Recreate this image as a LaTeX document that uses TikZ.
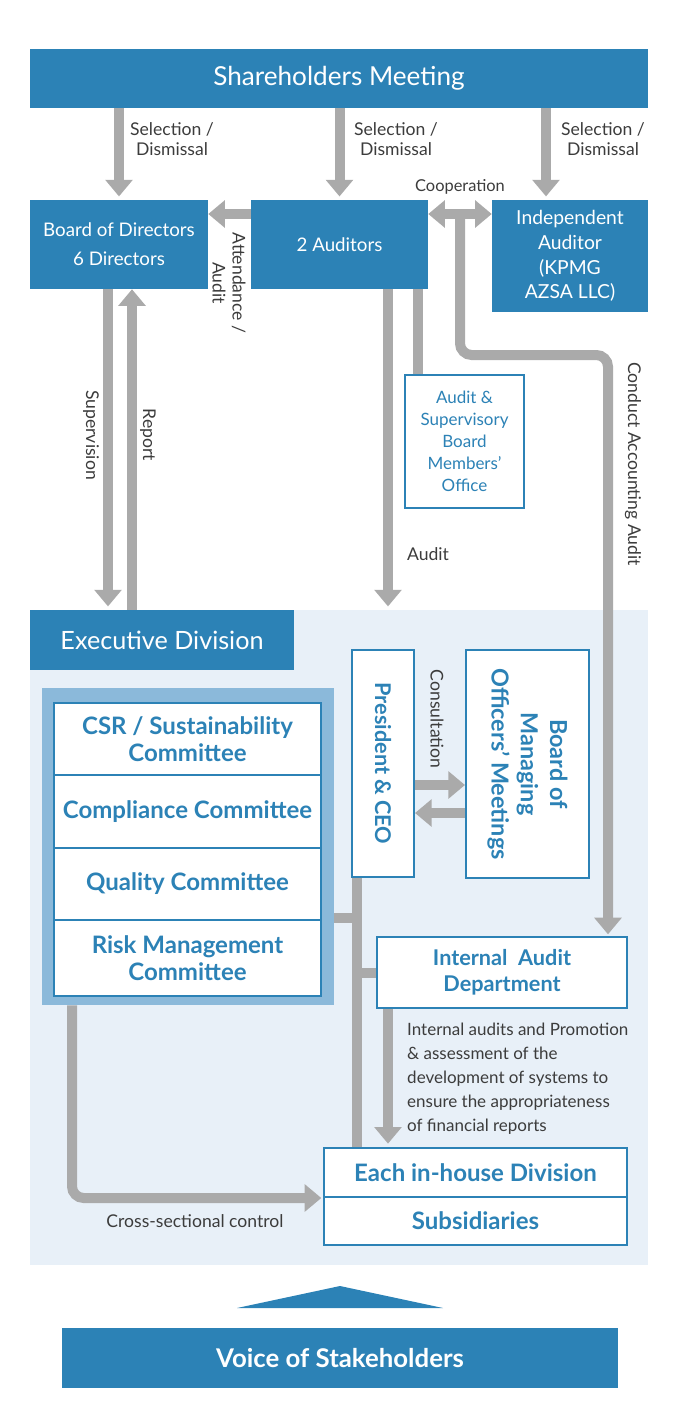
\documentclass[tikz,border=0pt]{standalone}
\usepackage{fontspec}
\setmainfont{Lato}
\usetikzlibrary{arrows.meta,calc}
\definecolor{corpblue}{HTML}{2C82B6}
\definecolor{paleblue}{HTML}{E8F0F8}
\definecolor{frameblue}{HTML}{8BB9DA}
\definecolor{arrowgray}{HTML}{AAAAAA}
\definecolor{labelgray}{HTML}{3C3C3C}
\tikzset{
  headbox/.style={fill=corpblue,text=white,inner sep=0pt,align=center},
  whitebox/.style={fill=white,draw=corpblue,line width=0.06cm,text=corpblue,inner sep=0pt,align=center,
    font=\bfseries\fontsize{20.5}{23}\selectfont},
  flow/.style={draw=arrowgray,line width=0.3cm,-{Triangle[length=0.5cm,width=0.8cm]}},
  flowboth/.style={draw=arrowgray,line width=0.3cm,{Triangle[length=0.5cm,width=0.8cm]}-{Triangle[length=0.5cm,width=0.8cm]}},
  bar/.style={draw=arrowgray,line width=0.3cm},
  lbl/.style={text=labelgray,font=\fontsize{15}{17}\selectfont,align=center,inner sep=0pt}
}
\begin{document}
\begin{tikzpicture}[x=0.03cm,y=-0.03cm]
\useasboundingbox (0,0) rectangle (678,1418);

% executive zone in the back
\node[fill=paleblue,minimum width=18.54cm,minimum height=19.65cm] (zone) at (339,937.5) {};

% top level
\node[headbox,minimum width=18.54cm,minimum height=1.77cm,font=\fontsize{22.3}{24}\selectfont] (sh) at (339,78.5) {Shareholders Meeting};
\node[headbox,minimum width=5.34cm,minimum height=2.67cm,font=\fontsize{16}{25}\selectfont] (bod) at (119,244.5) {Board of Directors\\6 Directors};
\node[headbox,minimum width=5.31cm,minimum height=2.67cm,font=\fontsize{16}{25}\selectfont] (aud) at (339.5,244.5) {2 Auditors};
\node[headbox,minimum width=4.68cm,minimum height=3.36cm,font=\fontsize{16.5}{21}\selectfont] (indep) at (570,256) {Independent\\Auditor\\(KPMG\\AZSA LLC)};
\node[whitebox,minimum width=3.57cm,minimum height=3.99cm,line width=0.05cm,font=\fontsize{14.5}{18.7}\selectfont] (asb) at (464.5,441.5) {Audit \&\\Supervisory\\Board\\Members’\\Office};

% executive division
\node[headbox,minimum width=7.92cm,minimum height=1.8cm,font=\fontsize{21.5}{24}\selectfont] (exec) at (162,640) {Executive Division};
\node[fill=frameblue,minimum width=8.76cm,minimum height=9.51cm] (frame) at (188,846.5) {};
\node[whitebox,minimum width=8.01cm,minimum height=2.16cm] (csr) at (187.5,739) {CSR / Sustainability\\Committee};
\node[whitebox,minimum width=8.01cm,minimum height=2.19cm] (comp) at (187.5,811.5) {Compliance Committee};
\node[whitebox,minimum width=8.01cm,minimum height=2.16cm] (qual) at (187.5,884) {Quality Committee};
\node[whitebox,minimum width=8.01cm,minimum height=2.28cm] (risk) at (187.5,958) {Risk Management\\Committee};

% rotated boxes: north = right side, south = left side, east = bottom
\node[whitebox,rotate=-90,minimum width=6.81cm,minimum height=1.86cm,font=\bfseries\fontsize{18.5}{22}\selectfont] (ceo) at (383,763.5) {President \& CEO};
\node[whitebox,rotate=-90,minimum width=6.84cm,minimum height=3.69cm,font=\bfseries\fontsize{20}{25}\selectfont] (bomo) at (527.5,764) {Board of\\Managing\\Officers’ Meetings};

\node[whitebox,minimum width=7.5cm,minimum height=2.13cm,font=\bfseries\fontsize{18.5}{22}\selectfont] (iad) at (502,972.5) {Internal\ \ Audit\\Department};
\node[whitebox,minimum width=9.09cm,minimum height=1.47cm] (each) at (475.5,1172.5) {Each in-house Division};
\node[whitebox,minimum width=9.09cm,minimum height=1.44cm] (subs) at (475.5,1221) {Subsidiaries};

% stakeholders
\fill[corpblue] (237,1308) -- (340,1286) -- (443,1308) -- cycle;
\node[headbox,minimum width=16.68cm,minimum height=1.8cm,font=\bfseries\fontsize{22}{24}\selectfont] (voice) at (340,1358) {Voice of Stakeholders};

% selection / dismissal
\draw[flow,shorten >=0.1cm] (sh.south -| bod) -- (bod.north);
\draw[flow,shorten >=0.1cm] (sh.south -| aud) -- (aud.north);
\draw[flow,shorten >=0.1cm] (sh.south -| 546,0) -- (indep.north -| 546,0);
\node[lbl] (sel1) at (172,139) {Selection /\\Dismissal};
\node[lbl] (sel2) at (396,139) {Selection /\\Dismissal};
\node[lbl] (sel3) at (603,139) {Selection /\\Dismissal};

% auditors
\draw[flow] (aud.west |- 0,214) -- (bod.east |- 0,214);
\node[lbl,rotate=-90] (att) at (229,283) {Attendance /\\Audit};
\draw[flowboth] (aud.east |- 0,214) -- (indep.west |- 0,214);
\coordinate (coop) at ($(aud.east |- 0,214)!0.5!(indep.west |- 0,214)$);
\node[lbl,font=\fontsize{14}{17}\selectfont] (cooplbl) at (460,187) {Cooperation};
\draw[flow,rounded corners=0.35cm,shorten >=0.05cm] (coop) -- (coop |- 0,355) -- (608,355) -- (iad.north -| 608,0);
\node[lbl,rotate=-90] (cna) at (633,464) {Conduct Accounting Audit};
\draw[bar] (aud.south -| 418,0) -- (asb.north -| 418,0);
\draw[flow,shorten >=0.1cm] (aud.south -| 388,0) -- (zone.north -| 388,0);
\node[lbl] (audlbl) at (428,554) {Audit};

% supervision and report
\draw[flow,shorten >=0.1cm] (bod.south -| 108,0) -- (zone.north -| 108,0);
\draw[flow] (exec.north -| 132,0) -- (bod.south -| 132,0);
\node[lbl,rotate=-90] (suplbl) at (91,435) {Supervision};
\node[lbl,rotate=-90] (replbl) at (148,435) {Report};

% consultation
\draw[flow] (ceo.north |- 0,785) -- (bomo.south |- 0,785);
\draw[flow] (bomo.south |- 0,813) -- (ceo.north |- 0,813);
\node[lbl,rotate=-90] (conlbl) at (437,719) {Consultation};

% line of command
\coordinate (spine) at (ceo.east -| 357,0);
\draw[bar] (spine) -- (each.north -| spine);
\draw[bar] (frame.east |- 0,918) -- (spine |- 0,918);
\draw[bar] (spine |- 0,973) -- (iad.west |- 0,973);
\draw[flow,shorten >=0.1cm] (iad.south -| 388,0) -- (each.north -| 388,0);
\node[lbl,align=left,anchor=north west,font=\fontsize{14.5}{20.4}\selectfont] (iadlbl) at (407,1023)
  {Internal audits and Promotion\\\& assessment of the\\development of systems to\\ensure the appropriateness\\of financial reports};
\draw[flow,rounded corners=0.35cm,shorten >=0.05cm] (frame.south -| 72,0) |- (each.south west);
\node[lbl] (crosslbl) at (195,1221) {Cross-sectional control};
\end{tikzpicture}
\end{document}
